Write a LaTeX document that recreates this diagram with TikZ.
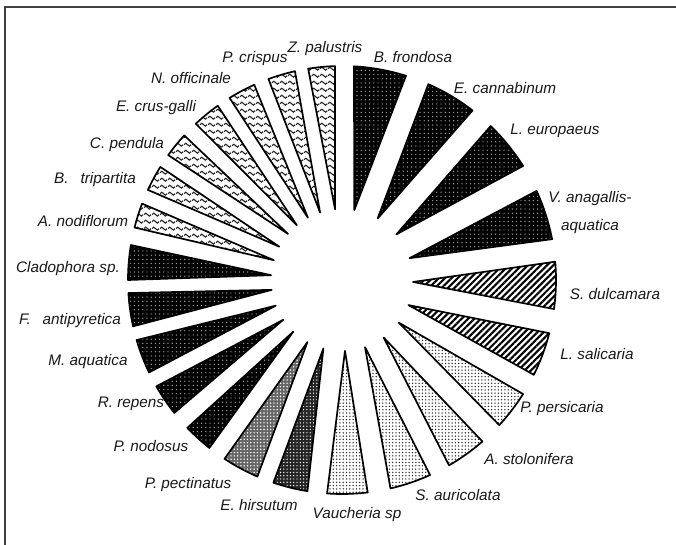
\documentclass[tikz,border=0pt]{standalone}
\usepackage{fontspec}
\setmainfont{Liberation Sans}
\usetikzlibrary{patterns,patterns.meta}

\tikzdeclarepattern{
  name=wavy,
  type=uncolored,
  bounding box={(0pt,0pt) and (8pt,6.8pt)},
  tile size={(8pt,6.8pt)},
  code={
    \draw[line width=1.15pt] (0pt,3.4pt) sin (2pt,4.9pt) cos (4pt,3.4pt) sin (6pt,1.9pt) cos (8pt,3.4pt);
  }
}

\begin{document}
\begin{tikzpicture}[x=1pt,y=1pt,
  wedge/.style={draw=black, line width=1.7pt, line join=round},
  blk/.style={wedge, preaction={fill=black}, pattern={Dots[radius=0.7pt,distance=4.2pt]}, pattern color=black!35},
  hatch/.style={wedge, preaction={fill=white}, pattern={Lines[angle=45,distance=4.5pt,line width=2.1pt]}, pattern color=black},
  light/.style={wedge, preaction={fill=white}, pattern={Dots[radius=0.75pt,distance=3.3pt]}, pattern color=black!85},
  medium/.style={wedge, preaction={fill=black!60}, pattern={Dots[radius=0.8pt,distance=3.3pt]}, pattern color=white},
  dark/.style={wedge, preaction={fill=black!85}, pattern={Dots[radius=0.7pt,distance=3.3pt]}, pattern color=white},
  wave/.style={wedge, preaction={fill=white}, pattern=wavy, pattern color=black!85},
  lab/.style={inner sep=0pt, font=\fontsize{15.3pt}{17pt}\selectfont\itshape, text=black!90},
  frame/.style={draw=black!75, line width=1.6pt}
]
\fill[white] (0,0) rectangle (676,545);
\useasboundingbox (0,0) rectangle (676,545);
\draw[frame] (5,0) -- (5,538) -- (676,538);

\begin{scope}[shift={(342,265)}]
  % right side
  \draw[blk]   (80:71pt)    -- (72.6:214pt)  arc[start angle=72.6,  end angle=86.8,  radius=214pt] -- cycle;
  \draw[blk]   (59.9:71pt)  -- (52.4:214pt)  arc[start angle=52.4,  end angle=66.2,  radius=214pt] -- cycle;
  \draw[blk]   (40:71pt)    -- (32.2:214pt)  arc[start angle=32.2,  end angle=46,    radius=214pt] -- cycle;
  \draw[blk]   (17.9:71pt)  -- (11:214pt)    arc[start angle=11,    end angle=24.6,  radius=214pt] -- cycle;
  \draw[hatch] (-1.6:71pt)  -- (-7.8:214pt)  arc[start angle=-7.8,  end angle=4.9,   radius=214pt] -- cycle;
  \draw[hatch] (-20.7:71pt) -- (-26.3:214pt) arc[start angle=-26.3, end angle=-14.4, radius=214pt] -- cycle;
  \draw[light] (-36.9:71pt) -- (-42.7:214pt) arc[start angle=-42.7, end angle=-32.2, radius=214pt] -- cycle;
  \draw[light] (-54.1:71pt) -- (-60:214pt)   arc[start angle=-60,   end angle=-49,   radius=214pt] -- cycle;
  \draw[light] (-71.1:71pt) -- (-76.9:214pt) arc[start angle=-76.9, end angle=-65.7, radius=214pt] -- cycle;
  \draw[light] (-87.6:71pt) -- (-94:214pt)   arc[start angle=-94,   end angle=-83.1, radius=214pt] -- cycle;
  \draw[dark]  (-105.2:71pt) -- (-108.7:214pt) arc[start angle=-108.7, end angle=-99.3, radius=214pt] -- cycle;
  \draw[medium] (-119.1:71pt) -- (-123.3:214pt) arc[start angle=-123.3, end angle=-113.3, radius=214pt] -- cycle;
  % left side
  \draw[blk]   (-133.3:71pt) -- (-136.3:214pt) arc[start angle=-136.3, end angle=-128.3, radius=214pt] -- cycle;
  \draw[blk]   (214.1:71pt) -- (209.8:214pt) arc[start angle=209.8, end angle=218.4, radius=214pt] -- cycle;
  \draw[blk]   (201.2:71pt) -- (196.3:214pt) arc[start angle=196.3, end angle=205.6, radius=214pt] -- cycle;
  \draw[blk]   (188:71pt)   -- (183.5:214pt) arc[start angle=183.5, end angle=192.5, radius=214pt] -- cycle;
  \draw[blk]   (176.1:71pt) -- (170.6:214pt) arc[start angle=170.6, end angle=180,   radius=214pt] -- cycle;
  \draw[wave]  (163.8:71pt) -- (159.1:214pt) arc[start angle=159.1, end angle=165.8, radius=214pt] -- cycle;
  \draw[wave]  (152:71pt)   -- (148.1:214pt) arc[start angle=148.1, end angle=155.1, radius=214pt] -- cycle;
  \draw[wave]  (139.5:71pt) -- (137.5:214pt) arc[start angle=137.5, end angle=144.3, radius=214pt] -- cycle;
  \draw[wave]  (129.5:71pt) -- (125.5:214pt) arc[start angle=125.5, end angle=133.1, radius=214pt] -- cycle;
  \draw[wave]  (118.7:71pt) -- (114.2:214pt) arc[start angle=114.2, end angle=121.7, radius=214pt] -- cycle;
  \draw[wave]  (108:71pt)   -- (102.7:214pt) arc[start angle=102.7, end angle=110.1, radius=214pt] -- cycle;
  \draw[wave]  (95.6:71pt)  -- (91.9:214pt)  arc[start angle=91.9,  end angle=99.1,  radius=214pt] -- cycle;
\end{scope}

% labels
\node[lab] (zpal) at (325,496) {Z. palustris};
\node[lab] (pcri) at (255,486) {P. crispus};
\node[lab] (bfro) at (413,488) {B. frondosa};
\node[lab] (noff) at (191,467) {N. officinale};
\node[lab] (ecan) at (505,457) {E. cannabinum};
\node[lab] (ecru) at (156,437) {E. crus-galli};
\node[lab] (leur) at (555,414) {L. europaeus};
\node[lab] (cpen) at (127,400) {C. pendula};
\node[lab] (btri) at (95,365) {B.\ \hspace{0.5em}tripartita};
\node[lab, align=center] (vana) at (590,332) {V. anagallis-\\[11pt]aquatica};
\node[lab] (anod) at (83,324) {A. nodiflorum};
\node[lab] (clad) at (68,276) {Cladophora sp.};
\node[lab] (sdul) at (615,251) {S. dulcamara};
\node[lab] (fant) at (70,224) {F.\ \hspace{0.5em}antipyretica};
\node[lab] (lsal) at (597,191) {L. salicaria};
\node[lab] (maq)  at (88,183) {M. aquatica};
\node[lab] (pper) at (562,136) {P. persicaria};
\node[lab] (rrep) at (131,141) {R. repens};
\node[lab] (asto) at (529,86) {A. stolonifera};
\node[lab] (pnod) at (151,99) {P. nodosus};
\node[lab] (ppec) at (188,60) {P. pectinatus};
\node[lab] (saur) at (458,50) {S. auricolata};
\node[lab] (ehir) at (259,40) {E. hirsutum};
\node[lab] (vauc) at (357,30) {Vaucheria sp};
\end{tikzpicture}
\end{document}
